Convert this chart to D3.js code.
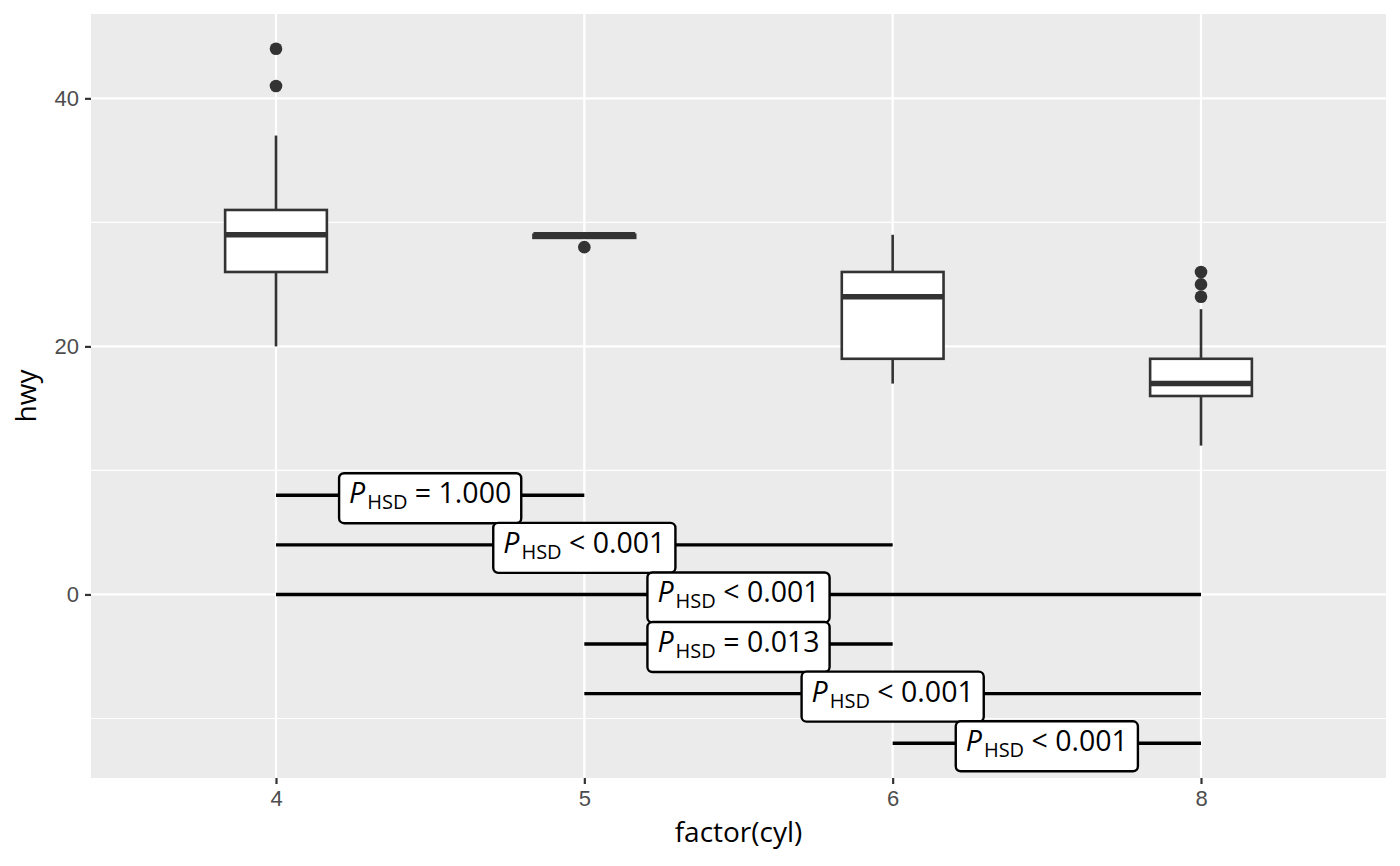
<!DOCTYPE html>
<html>
<head>
<meta charset="utf-8">
<script src="https://cdn.jsdelivr.net/npm/d3@7"></script>
<style>
  body { margin: 0; background: #fff; }
  svg { font-family: "Open Sans", sans-serif; }
  .grid-major line { stroke: #fff; stroke-width: 2.2; }
  .grid-minor line { stroke: #fff; stroke-width: 1.1; }
  .axis path { display: none; }
  .axis line { stroke: #333; stroke-width: 2.2; }
  .axis text { fill: #4d4d4d; font-size: 22px; }
  .box { fill: #fff; stroke: #333; stroke-width: 2.6; }
  .whisker { stroke: #333; stroke-width: 2.6; }
  .median { stroke: #333; stroke-width: 5.5; }
  .outlier { fill: #333; }
  .pair-line { stroke: #000; stroke-width: 3.4; }
  .pair-label rect { fill: #fff; stroke: #000; stroke-width: 2.4; }
  .pair-label text { fill: #000; font-size: 28.5px; }
  .title { fill: #000; font-size: 28px; }
</style>
</head>
<body>
<svg id="chart" width="1400" height="866"></svg>
<script>
// groups and boxplot stats (hwy by cylinder count)
const cyl = ["4", "5", "6", "8"];
const whiskerLow = [20, 28.75, 17, 12];
const q1 = [26, 28.75, 19, 16];
const median = [29, 29, 24, 17];
const q3 = [31, 29, 26, 19];
const whiskerHigh = [37, 29, 29, 23];
const outliers = [[41, 44], [28], [], [24, 25, 26]];

// pairwise comparisons
const pairFrom = ["4", "4", "4", "5", "5", "6"];
const pairTo = ["5", "6", "8", "6", "8", "8"];
const pairY = [8, 4, 0, -4, -8, -12];
const pairSign = ["=", "<", "<", "=", "<", "<"];
const pairP = ["1.000", "0.001", "0.001", "0.013", "0.001", "0.001"];

const yTicks = [0, 20, 40];
const yMinor = [-10, 10, 30];

const svg = d3.select("#chart");
const panel = { left: 91, right: 1386, top: 14, bottom: 778 };

const x = d3.scalePoint()
  .domain(cyl)
  .range([panel.left, panel.right])
  .padding(0.6);

const y = d3.scaleLinear()
  .domain([-14.8, 46.8])
  .range([panel.bottom, panel.top]);

const boxW = x.step() * 0.33;

svg.append("rect")
  .attr("x", panel.left)
  .attr("y", panel.top)
  .attr("width", panel.right - panel.left)
  .attr("height", panel.bottom - panel.top)
  .attr("fill", "#ebebeb");

svg.append("g")
  .attr("class", "grid-minor")
  .selectAll("line")
  .data(yMinor)
  .join("line")
  .attr("x1", panel.left)
  .attr("x2", panel.right)
  .attr("y1", d => y(d))
  .attr("y2", d => y(d));

const major = svg.append("g").attr("class", "grid-major");
major.selectAll("line.h")
  .data(yTicks)
  .join("line")
  .attr("class", "h")
  .attr("x1", panel.left)
  .attr("x2", panel.right)
  .attr("y1", d => y(d))
  .attr("y2", d => y(d));
major.selectAll("line.v")
  .data(cyl)
  .join("line")
  .attr("class", "v")
  .attr("x1", d => x(d))
  .attr("x2", d => x(d))
  .attr("y1", panel.top)
  .attr("y2", panel.bottom);

// boxplots
const boxes = svg.append("g")
  .selectAll("g")
  .data(cyl)
  .join("g");

boxes.append("line")
  .attr("class", "whisker")
  .attr("x1", d => x(d))
  .attr("x2", d => x(d))
  .attr("y1", (d, i) => y(q3[i]))
  .attr("y2", (d, i) => y(whiskerHigh[i]));

boxes.append("line")
  .attr("class", "whisker")
  .attr("x1", d => x(d))
  .attr("x2", d => x(d))
  .attr("y1", (d, i) => y(q1[i]))
  .attr("y2", (d, i) => y(whiskerLow[i]));

boxes.append("rect")
  .attr("class", "box")
  .attr("x", d => x(d) - boxW / 2)
  .attr("width", boxW)
  .attr("y", (d, i) => y(q3[i]))
  .attr("height", (d, i) => y(q1[i]) - y(q3[i]));

boxes.append("line")
  .attr("class", "median")
  .attr("x1", d => x(d) - boxW / 2)
  .attr("x2", d => x(d) + boxW / 2)
  .attr("y1", (d, i) => y(median[i]))
  .attr("y2", (d, i) => y(median[i]));

boxes.each(function (d, i) {
  d3.select(this).selectAll("circle")
    .data(outliers[i])
    .join("circle")
    .attr("class", "outlier")
    .attr("cx", x(d))
    .attr("cy", v => y(v))
    .attr("r", 6.3);
});

// pairwise comparison lines and labels
const pairs = pairFrom.map((f, i) => ({
  from: f, to: pairTo[i], y: pairY[i], sign: pairSign[i], p: pairP[i]
}));

svg.append("g")
  .selectAll("line")
  .data(pairs)
  .join("line")
  .attr("class", "pair-line")
  .attr("x1", d => x(d.from))
  .attr("x2", d => x(d.to))
  .attr("y1", d => y(d.y))
  .attr("y2", d => y(d.y));

const labels = svg.append("g")
  .selectAll("g")
  .data(pairs)
  .join("g")
  .attr("class", "pair-label")
  .attr("transform", d => `translate(${(x(d.from) + x(d.to)) / 2},${y(d.y)})`);

labels.each(function (d) {
  const g = d3.select(this);
  const rect = g.append("rect");
  const t = g.append("text")
    .attr("text-anchor", "middle")
    .attr("y", 8);
  t.append("tspan").attr("font-style", "italic").text("P");
  t.append("tspan").attr("font-size", 20).attr("dx", 2).attr("dy", 6).text("HSD");
  t.append("tspan").attr("dy", -6).text(` ${d.sign} ${d.p}`);
  const w = t.node().getComputedTextLength();
  const padX = 11;
  rect.attr("x", -w / 2 - padX)
    .attr("width", w + 2 * padX)
    .attr("y", -22)
    .attr("height", 50)
    .attr("rx", 5)
    .attr("ry", 5);
});

// axes
svg.append("g")
  .attr("class", "axis")
  .attr("transform", `translate(0,${panel.bottom})`)
  .call(d3.axisBottom(x).tickSize(6).tickPadding(6));

svg.append("g")
  .attr("class", "axis")
  .attr("transform", `translate(${panel.left},0)`)
  .call(d3.axisLeft(y).tickValues(yTicks).tickSize(6).tickPadding(6));

svg.append("text")
  .attr("class", "title")
  .attr("x", (panel.left + panel.right) / 2)
  .attr("y", 842)
  .attr("text-anchor", "middle")
  .text("factor(cyl)");

svg.append("text")
  .attr("class", "title")
  .attr("transform", `translate(36,${(panel.top + panel.bottom) / 2}) rotate(-90)`)
  .attr("text-anchor", "middle")
  .text("hwy");
</script>
</body>
</html>
